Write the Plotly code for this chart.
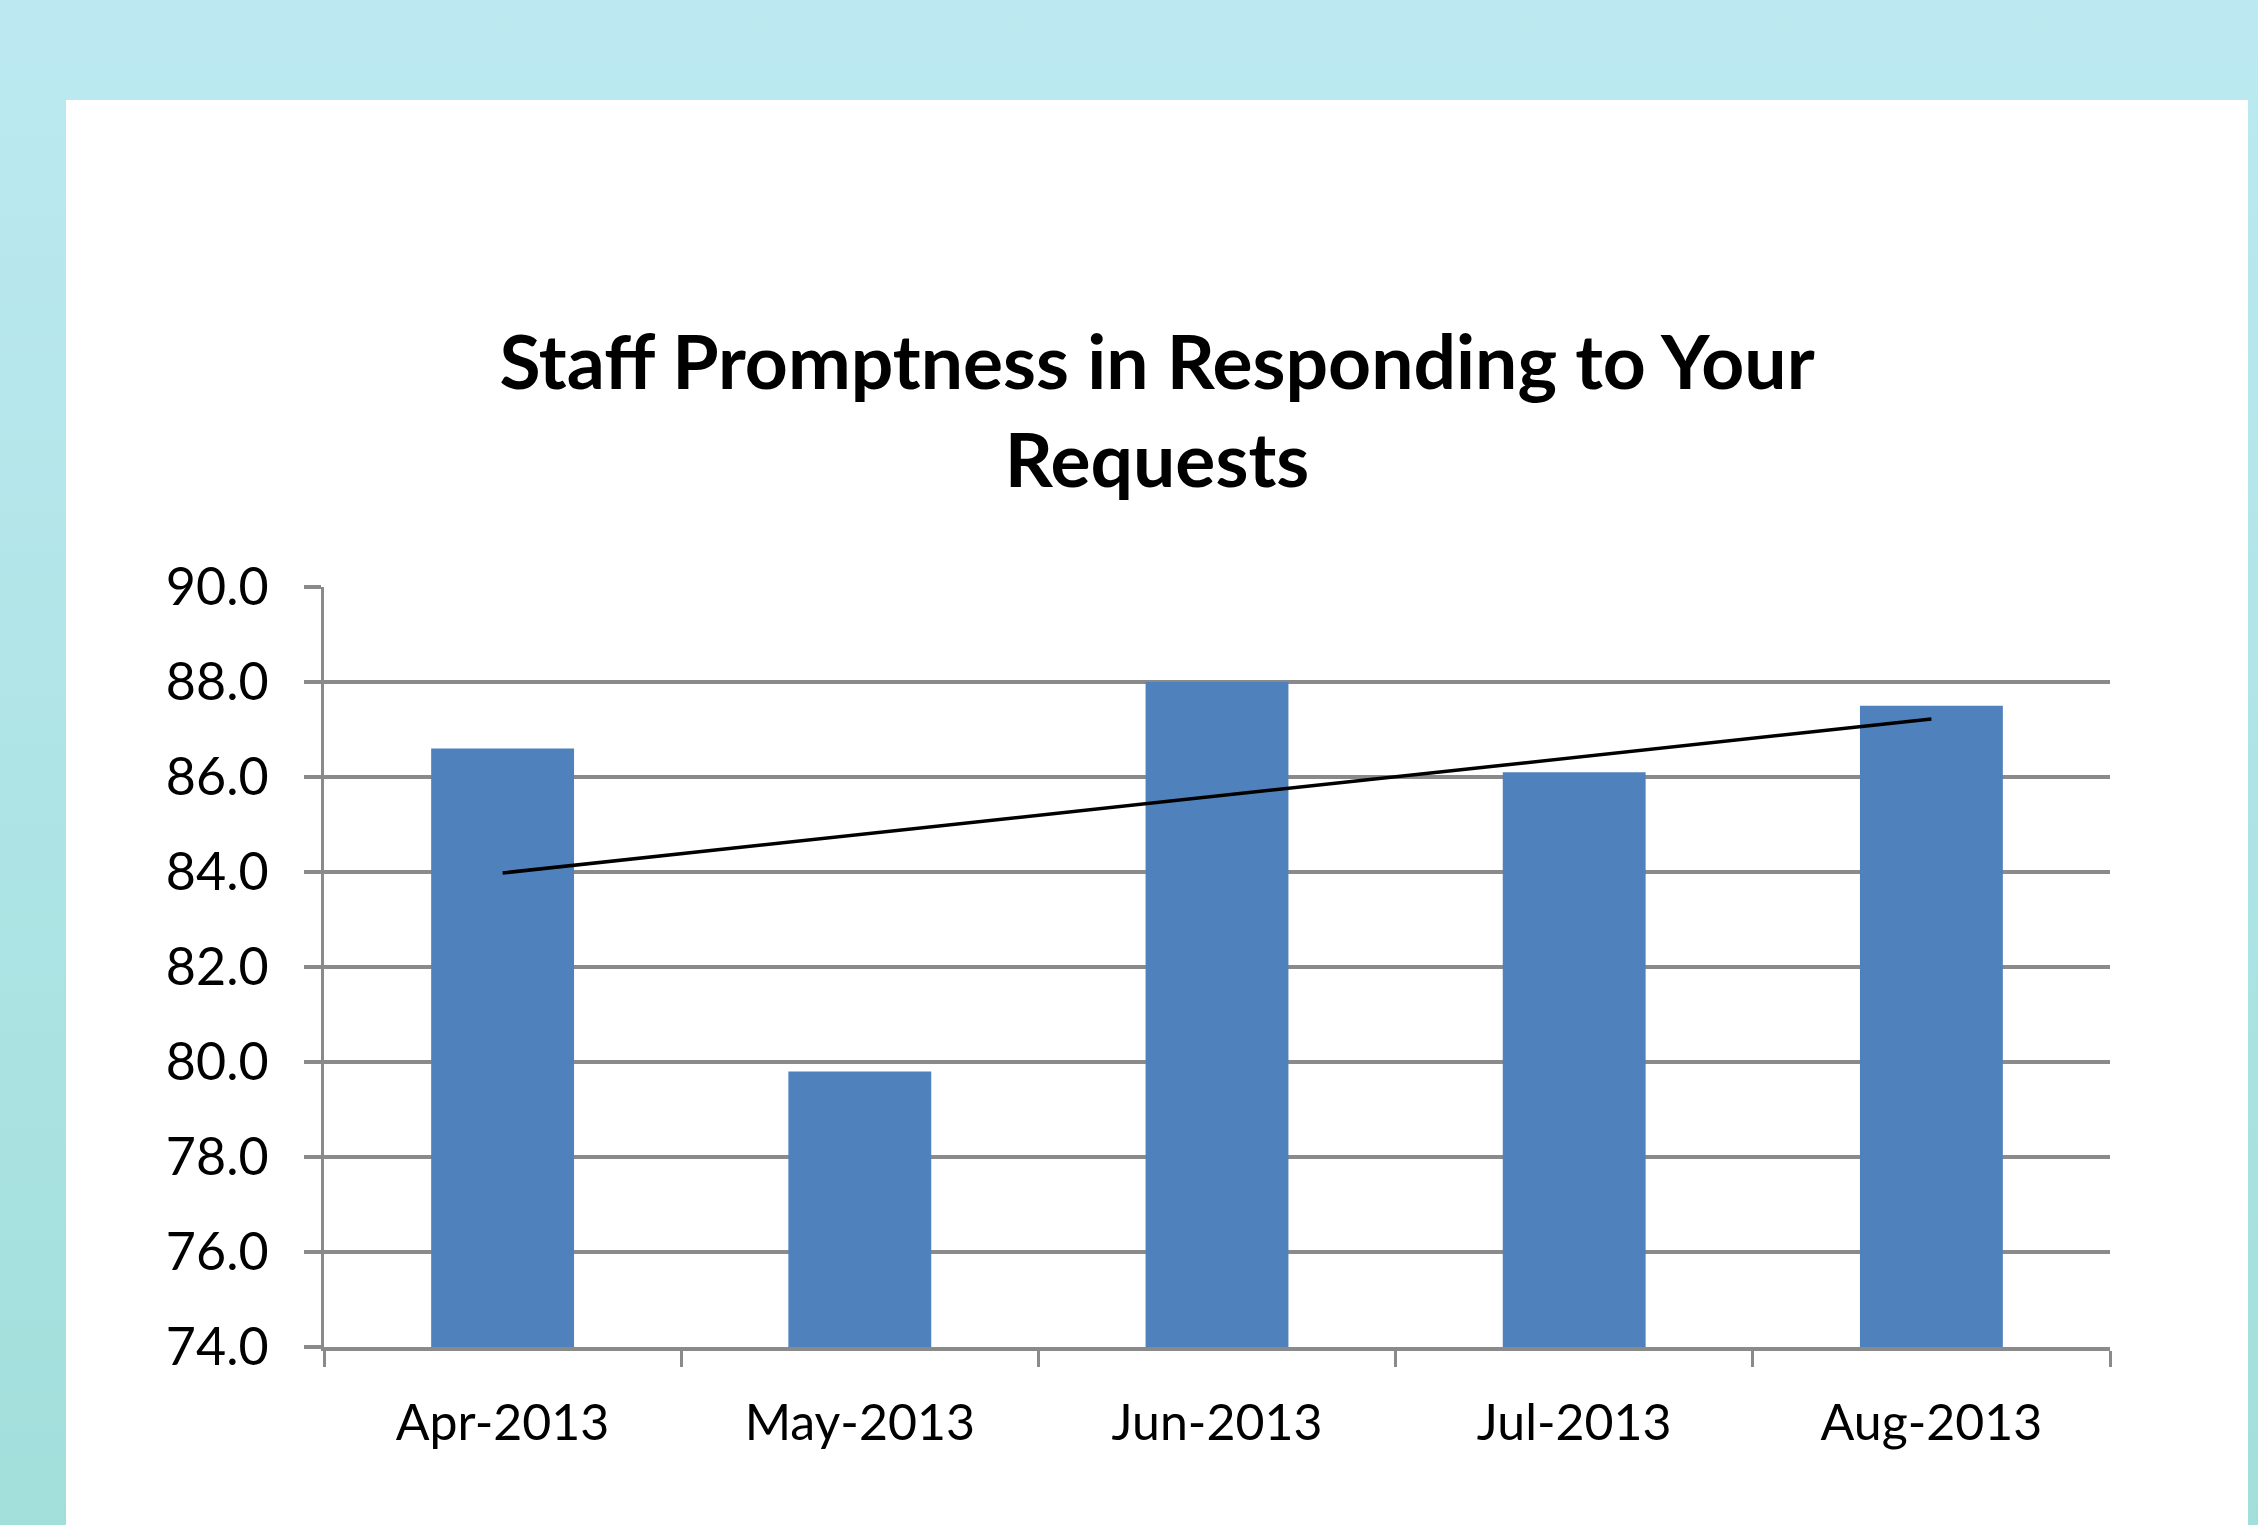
import base64
import numpy as np
import plotly.graph_objects as go

# ---- data ----
months = ["Apr-2013", "May-2013", "Jun-2013", "Jul-2013", "Aug-2013"]
scores = [86.6, 79.8, 88.0, 86.1, 87.5]
title_text = "Staff Promptness in Responding to Your<br>Requests"
y_ticks = [74, 76, 78, 80, 82, 84, 86, 88, 90]

# linear trendline (least squares, like Excel)
xi = np.arange(1, len(scores) + 1)
slope, intercept = np.polyfit(xi, scores, 1)
trend = list(slope * xi + intercept)

W, H = 2258, 1525
FONT = "Lato"
GRID = "#8a8a8a"

def px_x(v):
    return v / W

def px_y(v):
    return 1 - v / H

fig = go.Figure()
fig.add_trace(go.Bar(
    x=months, y=scores, width=0.4,
    marker=dict(color="#4f81bd", line=dict(width=0)),
    hoverinfo="skip", showlegend=False,
))
fig.add_trace(go.Scatter(
    x=months, y=trend, mode="lines",
    line=dict(color="black", width=3.5),
    hoverinfo="skip", showlegend=False,
))

svg = ('<svg xmlns="http://www.w3.org/2000/svg" width="100" height="100" viewBox="0 0 100 100" preserveAspectRatio="none">'
       '<defs><linearGradient id="g" x1="0" y1="0" x2="0" y2="1">'
       '<stop offset="0" stop-color="#bce9f1"/><stop offset="1" stop-color="#a2dfdb"/>'
       '</linearGradient></defs><rect width="100" height="100" fill="url(#g)"/></svg>')
bg_uri = "data:image/svg+xml;base64," + base64.b64encode(svg.encode()).decode()

fig.update_layout(
    width=W, height=H,
    margin=dict(l=0, r=0, t=0, b=0, pad=0, autoexpand=False),
    paper_bgcolor="#afe4e6",
    plot_bgcolor="rgba(0,0,0,0)",
    images=[dict(source=bg_uri, xref="paper", yref="paper", x=0, y=1,
                 sizex=1, sizey=1, sizing="stretch", layer="below",
                 xanchor="left", yanchor="top")],
    shapes=[dict(type="rect", xref="paper", yref="paper", layer="below",
                 x0=px_x(66), x1=px_x(2248), y0=0, y1=px_y(100),
                 fillcolor="white", line=dict(width=0))],
    title=dict(text=title_text, x=px_x(1157), xanchor="center",
               y=px_y(389), yref="container", yanchor="top",
               font=dict(family=FONT, size=75, color="black", weight="bold")),
    font=dict(family=FONT, color="black"),
    xaxis=dict(
        domain=[px_x(324), px_x(2110)],
        showgrid=False, showline=True, linecolor=GRID, linewidth=3.5,
        ticks="outside", tickson="boundaries", ticklen=16, tickwidth=3,
        tickcolor=GRID, tickfont=dict(family=FONT, size=50, color="black"),
        ticklabelstandoff=29, fixedrange=True, automargin=False,
    ),
    yaxis=dict(
        domain=[px_y(1347), px_y(587)],
        range=[74, 90], tickvals=y_ticks, tickformat=".1f",
        showgrid=True, gridcolor=GRID, gridwidth=3.5,
        showline=True, linecolor=GRID, linewidth=3,
        ticks="outside", ticklen=17, tickwidth=3.5, tickcolor=GRID,
        tickfont=dict(family=FONT, size=52, color="black"),
        ticklabelstandoff=25, zeroline=False, fixedrange=True, automargin=False,
    ),
    hovermode=False,
    bargap=0.6,
)

fig.write_html("out.html")
